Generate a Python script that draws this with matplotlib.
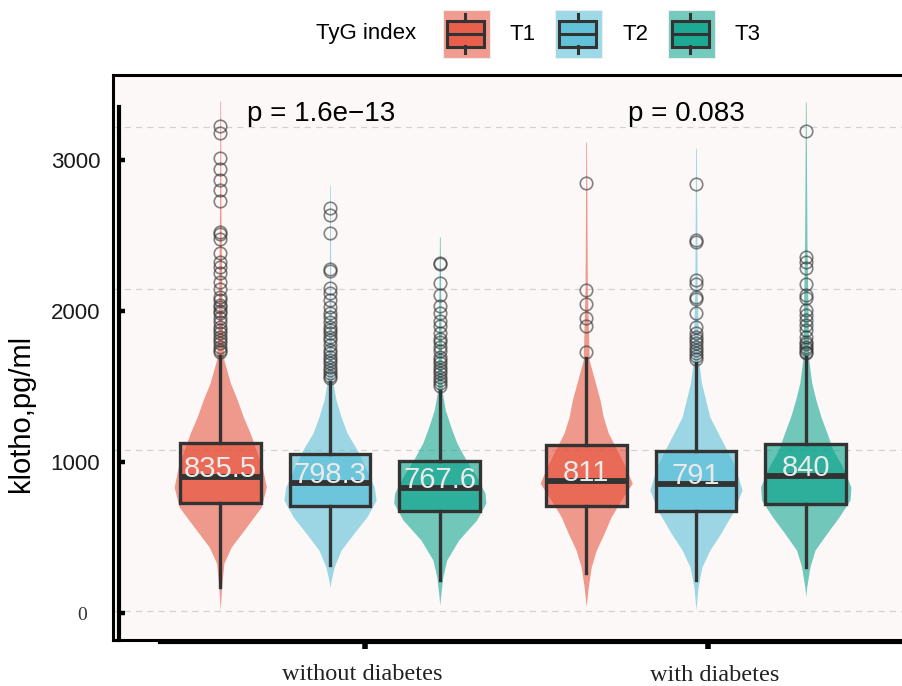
import numpy as np
import matplotlib
matplotlib.use("Agg")
from matplotlib import pyplot as plt
from matplotlib.patches import Rectangle
from matplotlib.lines import Line2D
from matplotlib.colors import to_rgba

plt.rcParams['font.family'] = ['Liberation Sans', 'DejaVu Sans']

# groups / tertiles
groups = ["without diabetes", "with diabetes"]
tertiles = ["T1", "T2", "T3"]
colors = ["#E64B35", "#4DBBD5", "#00A087"]
p_labels = ["p = 1.6e\u221213", "p = 0.083"]

# box statistics per group (T1, T2, T3)
med_nd = [835.5, 798.3, 767.6]
q1_nd = [670, 653, 624]
q3_nd = [1041, 975, 934]
lo_nd = [154, 288, 195]
hi_nd = [1585, 1420, 1365]

med_d = [811, 791, 840]
q1_d = [653, 624, 666]
q3_d = [1031, 996, 1037]
lo_d = [240, 195, 278]
hi_d = [1568, 1537, 1578]

# outliers
out_nd_t1 = [3008, 2960, 2810, 2738, 2672, 2610, 2543, 2352, 2340, 2305, 2218, 2166,
             2135, 2094, 2043, 1995, 1950, 1930, 1900, 1888, 1860, 1847, 1816, 1790,
             1764, 1745, 1723, 1700, 1682, 1660, 1640, 1622, 1605]
out_nd_t2 = [2497, 2455, 2342, 2120, 2110, 2001, 1970, 1929, 1887, 1850, 1825, 1790,
             1763, 1740, 1722, 1700, 1681, 1650, 1619, 1600, 1578, 1560, 1537, 1515,
             1495, 1475, 1460, 1445]
out_nd_t3 = [2160, 2150, 2032, 1960, 1890, 1850, 1800, 1768, 1722, 1690, 1671, 1640,
             1610, 1578, 1560, 1537, 1515, 1495, 1475, 1454, 1435, 1413, 1395]
out_d_t1 = [2651, 1991, 1904, 1815, 1768, 1609]
out_d_t2 = [2645, 2300, 2286, 2053, 2028, 1949, 1935, 1846, 1763, 1722, 1702, 1680,
            1661, 1640, 1620, 1600, 1580, 1562]
out_d_t3 = [2977, 2197, 2166, 2125, 2028, 1960, 1939, 1867, 1836, 1805, 1774, 1740,
            1702, 1671, 1655, 1640, 1625, 1609, 1599]

# violin outlines: [klotho value, relative half width]
violin_nd_t1 = [[3160, 0.008], [2500, 0.015], [1800, 0.04], [1557, 0.08], [1415, 0.22],
                [1310, 0.37], [1205, 0.5], [1105, 0.65], [1000, 0.78], [895, 0.91],
                [771, 1.0], [647, 0.89], [524, 0.57], [400, 0.24], [300, 0.08],
                [152, 0.03], [5, 0.0]]
violin_nd_t2 = [[2640, 0.008], [2000, 0.015], [1600, 0.04], [1415, 0.065], [1310, 0.13],
                [1205, 0.24], [1105, 0.37], [1000, 0.59], [895, 0.76], [771, 0.96],
                [690, 1.0], [586, 0.8], [485, 0.52], [380, 0.24], [276, 0.09],
                [200, 0.03], [150, 0.0]]
violin_nd_t3 = [[2320, 0.008], [1800, 0.025], [1353, 0.055], [1248, 0.12], [1142, 0.24],
                [1043, 0.37], [938, 0.57], [833, 0.8], [733, 0.98], [672, 1.0],
                [567, 0.8], [443, 0.41], [319, 0.15], [214, 0.065], [100, 0.02],
                [40, 0.0]]
violin_d_t1 = [[2907, 0.008], [2000, 0.025], [1557, 0.065], [1415, 0.2], [1310, 0.3],
               [1205, 0.37], [1105, 0.48], [1000, 0.67], [895, 0.85], [795, 1.0],
               [690, 0.76], [585, 0.54], [485, 0.39], [380, 0.22], [276, 0.11],
               [152, 0.045], [30, 0.0]]
violin_d_t2 = [[2870, 0.008], [2000, 0.025], [1537, 0.065], [1415, 0.12], [1310, 0.21],
               [1205, 0.3], [1105, 0.48], [1000, 0.67], [895, 0.85], [752, 1.0],
               [628, 0.83], [485, 0.54], [380, 0.3], [276, 0.13], [152, 0.045],
               [10, 0.0]]
violin_d_t3 = [[3155, 0.008], [2300, 0.025], [1557, 0.065], [1415, 0.13], [1310, 0.22],
               [1205, 0.33], [1105, 0.46], [1000, 0.59], [895, 0.8], [771, 0.98],
               [690, 0.96], [585, 0.72], [485, 0.46], [380, 0.2], [276, 0.09],
               [150, 0.02], [92, 0.0]]

W, H = 903, 686
def fx(px):
    return px / W
def fy(py):
    return 1 - py / H

fig = plt.figure(figsize=(W / 100, H / 100), dpi=100)

ax = fig.add_axes([fx(113), fy(640), 800 / W, 565 / H])
ax.set_facecolor("#FCF8F7")
ax.set_xlim(0.407, 2.593)
ax.set_ylim(-176.5, 3322)
ax.set_axisbelow(True)
ax.grid(axis="y", color="#D2D2D2", lw=0.9, ls=(0, (5, 4)))
for s in ax.spines.values():
    s.set_linewidth(2.2)
    s.set_color("black")

dodge = [-0.3, 0.0, 0.3]
box_w = 0.221
violin_half = 0.126

stats_by_group = [
    (med_nd, q1_nd, q3_nd, lo_nd, hi_nd, [out_nd_t1, out_nd_t2, out_nd_t3],
     [violin_nd_t1, violin_nd_t2, violin_nd_t3]),
    (med_d, q1_d, q3_d, lo_d, hi_d, [out_d_t1, out_d_t2, out_d_t3],
     [violin_d_t1, violin_d_t2, violin_d_t3]),
]

for gi, (med, q1, q3, lo, hi, outs, viols) in enumerate(stats_by_group):
    center = gi + 1
    for k in range(3):
        pos = center + dodge[k]
        shape = np.array(viols[k], dtype=float)
        hw = shape[:, 1] * violin_half
        ax.fill_betweenx(shape[:, 0], pos - hw, pos + hw, color=colors[k],
                         alpha=0.55, lw=0, zorder=2)
        st = dict(med=med[k], q1=q1[k], q3=q3[k], whislo=lo[k], whishi=hi[k],
                  fliers=np.array(outs[k]))
        ax.bxp([st], positions=[pos], widths=box_w, patch_artist=True,
               showcaps=False, zorder=3, manage_ticks=False,
               boxprops=dict(facecolor=to_rgba(colors[k], 0.6), edgecolor="#333333", lw=2.4),
               medianprops=dict(color="#333333", lw=4.2, solid_capstyle="butt"),
               whiskerprops=dict(color="#333333", lw=2.4),
               flierprops=dict(marker="o", markerfacecolor="none",
                               markeredgecolor=to_rgba("#333333", 0.6),
                               markersize=9, markeredgewidth=1.2))
        ax.text(pos, med[k], f"{med[k]:g}", ha="center", va="baseline",
                fontsize=21, color="#EAEAEA", zorder=5)
    ax.text(center - 0.025, 3039, p_labels[gi], ha="center", va="baseline",
            fontsize=20, color="black", zorder=5)

ax.set_xticks([])
ax.set_yticks([0, 1000, 2000, 3000])
ax.tick_params(axis="y", length=0, labelleft=False)

# detached left axis
axl = fig.add_axes([fx(119), fy(640), 0.0005, (640 - 107) / H])
axl.patch.set_visible(False)
axl.set_ylim(-179, 3351)
for name, s in axl.spines.items():
    s.set_visible(name == "left")
axl.spines["left"].set_linewidth(3.0)
axl.set_xticks([])
axl.set_yticks([0, 1000, 2000, 3000])
axl.set_yticklabels(["", "1000", "2000", "3000"])
axl.tick_params(axis="y", direction="in", length=4.5, width=3.2, pad=13.5,
                labelsize=16, labelcolor="#1A1A1A")
fig.text(fx(87), fy(615), "0", ha="right", va="center", fontsize=14,
         family="Liberation Serif", color="#333333")

# detached bottom axis
axb = fig.add_axes([fx(160), fy(642), (920 - 160) / W, 0.0005])
axb.patch.set_visible(False)
axb.set_xlim(0.4023, 2.618)
for name, s in axb.spines.items():
    s.set_visible(name == "bottom")
axb.spines["bottom"].set_linewidth(3.0)
axb.set_yticks([])
axb.set_xticks([1, 2])
axb.set_xticklabels([])
axb.tick_params(axis="x", direction="out", length=5, width=4)

fig.text(fx(362), fy(685.5), groups[0], ha="center", va="bottom", fontsize=17.5,
         family="Liberation Serif", color="#222222")
fig.text(fx(715), fy(681), groups[1], ha="center", va="baseline", fontsize=17.5,
         family="Liberation Serif", color="#222222")

fig.text(fx(21), fy(413), "klotho,pg/ml", rotation=90, ha="center", va="center",
         fontsize=21, color="black")

# legend
fig.text(fx(366), fy(34), "TyG index", ha="center", va="center", fontsize=16)
key_x = [443, 555, 668]
lab_x = [523, 636, 748]
for k in range(3):
    x0 = key_x[k]
    fig.add_artist(Rectangle((fx(x0), fy(58)), 47 / W, 48 / H, transform=fig.transFigure,
                             facecolor=to_rgba(colors[k], 0.55), edgecolor="#EEEEEE", lw=0.8))
    fig.add_artist(Rectangle((fx(x0 + 4), fy(47)), 37 / W, 26 / H, transform=fig.transFigure,
                             facecolor=to_rgba(colors[k], 0.75), edgecolor="#333333", lw=2.2))
    cx = x0 + 22.5
    fig.add_artist(Line2D([fx(x0 + 4), fx(x0 + 41)], [fy(34), fy(34)], transform=fig.transFigure,
                          color="#333333", lw=2.2))
    fig.add_artist(Line2D([fx(cx), fx(cx)], [fy(14), fy(21)], transform=fig.transFigure,
                          color="#333333", lw=2.2))
    fig.add_artist(Line2D([fx(cx), fx(cx)], [fy(46), fy(53)], transform=fig.transFigure,
                          color="#333333", lw=2.2))
    fig.text(fx(lab_x[k]), fy(34), tertiles[k], ha="center", va="center", fontsize=16)

fig.savefig("out.png", dpi=100)
